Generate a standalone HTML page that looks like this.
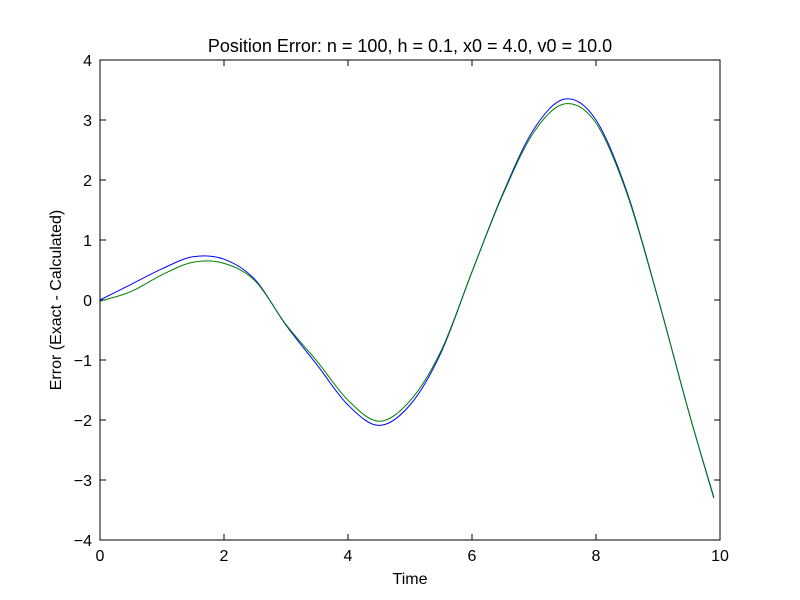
<!DOCTYPE html>
<html><head><meta charset="utf-8"><style>
body{margin:0;background:#fff;}
svg{display:block;font-family:"Liberation Sans","DejaVu Sans",sans-serif;}
</style></head><body>
<svg id="chart" width="800" height="600">
<rect x="0" y="0" width="800" height="600" fill="#fff"/>
<text x="410" y="52" font-size="18" text-anchor="middle">Position Error: n = 100, h = 0.1, x0 = 4.0, v0 = 10.0</text>
<text x="410" y="584" font-size="16" text-anchor="middle">Time</text>
<text transform="translate(61,300) rotate(-90)" font-size="16" text-anchor="middle">Error (Exact - Calculated)</text>
<g id="ticks"></g>
<g id="series"></g>
<rect x="100" y="60" width="620" height="480" fill="none" stroke="#000" stroke-width="1"/>
</svg>
<script>
const times = [0,0.5,1.0,1.5,2.0,2.5,3.0,3.5,4.0,4.5,5.0,5.5,6.0,6.5,7.0,7.5,8.0,8.5,9.0,9.5,9.9];
const blueVals = [0,0.26,0.52,0.72,0.68,0.34,-0.42,-1.08,-1.75,-2.09,-1.75,-0.88,0.47,1.78,2.85,3.35,3.0,1.8,0.03,-1.88,-3.3];
const greenVals = [-0.02,0.14,0.42,0.63,0.61,0.32,-0.41,-1.02,-1.67,-2.02,-1.68,-0.85,0.47,1.76,2.8,3.27,2.95,1.77,0.02,-1.88,-3.28];
const xTicks = [0,2,4,6,8,10];
const yTicks = [-4,-3,-2,-1,0,1,2,3,4];
const NS="http://www.w3.org/2000/svg";
const X0=100,X1=720,Y0=540,Y1=60;
function sx(t){return X0+(t-0)/(10-0)*(X1-X0);}
function sy(v){return Y0-(v+4)/8*(Y0-Y1);}
const tg=document.getElementById('ticks');
function mk(tag,attrs,parent){const e=document.createElementNS(NS,tag);for(const k in attrs)e.setAttribute(k,attrs[k]);parent.appendChild(e);return e;}
xTicks.forEach(t=>{
  const x=sx(t);
  const l1=mk('line',{x1:x,x2:x,y1:Y0,y2:Y0-6,stroke:'#000'},tg);
  
  
  const l2=mk('line',{x1:x,x2:x,y1:Y1,y2:Y1+6,stroke:'#000'},tg);
  
  
  const tx=mk('text',{x:x,y:Y0+21,'font-size':16,'text-anchor':'middle'},tg);
  tx.textContent=String(t);
  
  
});
yTicks.forEach(v=>{
  const y=sy(v);
  const l1=mk('line',{x1:X0,x2:X0+6,y1:y,y2:y,stroke:'#000'},tg);
  
  
  const l2=mk('line',{x1:X1,x2:X1-6,y1:y,y2:y,stroke:'#000'},tg);
  
  
  const tx=mk('text',{x:X0-8,y:y+6,'font-size':16,'text-anchor':'end'},tg);
  tx.textContent=(v<0?'\u2212'+(-v):String(v));
  
  
});
function pathFor(vals){
  const p=times.map((t,i)=>[sx(t),sy(vals[i])]);
  let d='M'+p[0][0]+','+p[0][1];
  for(let i=0;i<p.length-1;i++){
    const a=p[Math.max(0,i-1)],b=p[i],c=p[i+1],e=p[Math.min(p.length-1,i+2)];
    const c1x=b[0]+(c[0]-a[0])/6,c1y=b[1]+(c[1]-a[1])/6;
    const c2x=c[0]-(e[0]-b[0])/6,c2y=c[1]-(e[1]-b[1])/6;
    d+=' C'+c1x+','+c1y+' '+c2x+','+c2y+' '+c[0]+','+c[1];
  }
  return d;
}
const sg=document.getElementById('series');
const bp=mk('path',{d:pathFor(blueVals),fill:'none',stroke:'#0000ff','stroke-width':1},sg);


const gp=mk('path',{d:pathFor(greenVals),fill:'none',stroke:'#008000','stroke-width':1},sg);


</script>
</body></html>
